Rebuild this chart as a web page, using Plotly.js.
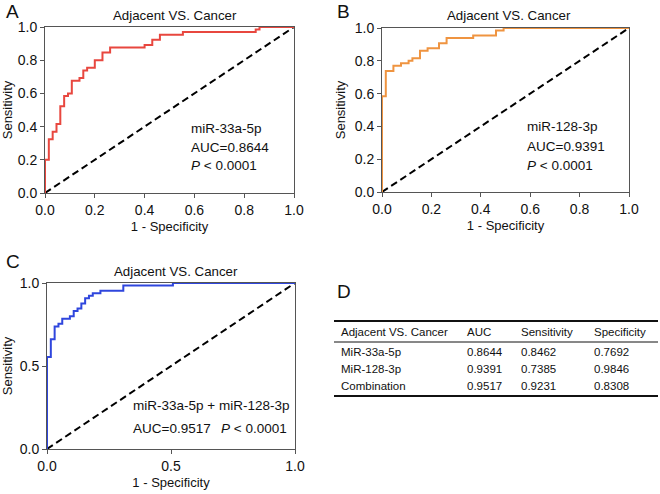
<!DOCTYPE html>
<html><head><meta charset="utf-8">
<script src="https://cdn.plot.ly/plotly-3.0.1.min.js"></script>
<style>html,body{margin:0;padding:0;background:#fff}#chart{width:660px;height:494px}</style>
</head><body><div id="chart"></div>
<script>
// ROC curve A: miR-33a-5p (1 - specificity, sensitivity) step vertices
const rocA_x = [0, 0, 0.0154, 0.0154, 0.0308, 0.0308, 0.0462, 0.0462, 0.0615, 0.0615, 0.0769, 0.0769, 0.0923, 0.0923, 0.1077, 0.1077, 0.1385, 0.1385, 0.1538, 0.1538, 0.1692, 0.1692, 0.2, 0.2, 0.2308, 0.2308, 0.2615, 0.2615, 0.4, 0.4, 0.4308, 0.4308, 0.4615, 0.4615, 0.5538, 0.5538, 0.8462, 0.8462, 0.8615, 0.8615, 1.0];
const rocA_y = [0, 0.2, 0.2, 0.3231, 0.3231, 0.3692, 0.3692, 0.4154, 0.4154, 0.5231, 0.5231, 0.5846, 0.5846, 0.6, 0.6, 0.6769, 0.6769, 0.6923, 0.6923, 0.7385, 0.7385, 0.7538, 0.7538, 0.8, 0.8, 0.8462, 0.8462, 0.8769, 0.8769, 0.8923, 0.8923, 0.9231, 0.9231, 0.9538, 0.9538, 0.9692, 0.9692, 0.9846, 0.9846, 1.0, 1.0];
// ROC curve B: miR-128-3p
const rocB_x = [0, 0, 0.0154, 0.0154, 0.0462, 0.0462, 0.0769, 0.0769, 0.1077, 0.1077, 0.1231, 0.1231, 0.1538, 0.1538, 0.1846, 0.1846, 0.2308, 0.2308, 0.2615, 0.2615, 0.3692, 0.3692, 0.4615, 0.4615, 0.4923, 0.4923, 1.0];
const rocB_y = [0, 0.5846, 0.5846, 0.7385, 0.7385, 0.7692, 0.7692, 0.7846, 0.7846, 0.8, 0.8, 0.8154, 0.8154, 0.8615, 0.8615, 0.8769, 0.8769, 0.9077, 0.9077, 0.9385, 0.9385, 0.9538, 0.9538, 0.9846, 0.9846, 1.0, 1.0];
// ROC curve C: combination
const rocC_x = [0, 0, 0.0154, 0.0154, 0.0308, 0.0308, 0.0462, 0.0462, 0.0615, 0.0615, 0.0923, 0.0923, 0.1077, 0.1077, 0.1231, 0.1231, 0.1385, 0.1385, 0.1538, 0.1538, 0.1692, 0.1692, 0.1846, 0.1846, 0.2154, 0.2154, 0.3077, 0.3077, 0.5077, 0.5077, 1.0];
const rocC_y = [0, 0.5538, 0.5538, 0.6615, 0.6615, 0.7385, 0.7385, 0.7538, 0.7538, 0.7846, 0.7846, 0.8, 0.8, 0.8308, 0.8308, 0.8462, 0.8462, 0.8769, 0.8769, 0.9077, 0.9077, 0.9231, 0.9231, 0.9385, 0.9385, 0.9538, 0.9538, 0.9846, 0.9846, 1.0, 1.0];
const refLine = [0, 1];

// Table D
const tableHeader = ["Adjacent VS. Cancer", "AUC", "Sensitivity", "Specificity"];
const tableRows = ["MiR-33a-5p", "MiR-128-3p", "Combination"];
const tableAUC = ["0.8644", "0.9391", "0.9517"];
const tableSens = ["0.8462", "0.7385", "0.9231"];
const tableSpec = ["0.7692", "0.9846", "0.8308"];

const W = 660, H = 494;
const px = x => x / W, py = y => 1 - y / H;
const FONT = "Liberation Sans, Arial, sans-serif";
const axColor = "#555";

function rocTrace(x, y, color, xa, ya) {
  return {x: x, y: y, mode: "lines", line: {color: color, width: 2}, xaxis: xa, yaxis: ya, hoverinfo: "skip", showlegend: false};
}
function diagTrace(xa, ya) {
  return {x: refLine, y: refLine, mode: "lines", line: {color: "#000", width: 2, dash: "7px,4px"}, xaxis: xa, yaxis: ya, hoverinfo: "skip", showlegend: false};
}
const traces = [
  diagTrace("x", "y"), rocTrace(rocA_x, rocA_y, "#e8473f", "x", "y"),
  diagTrace("x2", "y2"), rocTrace(rocB_x, rocB_y, "#ef9440", "x2", "y2"),
  diagTrace("x3", "y3"), rocTrace(rocC_x, rocC_y, "#2f46dd", "x3", "y3")
];

function xAxis(domain, anchor, dtick) {
  return {domain: domain, anchor: anchor, range: [0, 1], dtick: dtick, tick0: 0, tickformat: ".1f",
    showgrid: false, zeroline: false, showline: true, mirror: true, linecolor: axColor, linewidth: 1,
    ticks: "outside", ticklen: 4, tickcolor: axColor, tickfont: {family: FONT, size: 14, color: "#111"},
    title: {text: "1 - Specificity", font: {family: FONT, size: 13, color: "#111"}, standoff: 5}, fixedrange: true};
}
function yAxis(domain, anchor, dtick) {
  return {domain: domain, anchor: anchor, range: [0, 1], dtick: dtick, tick0: 0, tickformat: ".1f",
    showgrid: false, zeroline: false, showline: true, mirror: true, linecolor: axColor, linewidth: 1,
    ticks: "outside", ticklen: 4, tickcolor: axColor, tickfont: {family: FONT, size: 14, color: "#111"},
    title: {text: "Sensitivity", font: {family: FONT, size: 13, color: "#111"}, standoff: 6}, fixedrange: true};
}

const annotations = [];
const txt = (x, y, t, size, opts) => annotations.push(Object.assign({xref: "paper", yref: "paper", x: px(x), y: py(y), text: t, showarrow: false,
  xanchor: "left", yanchor: "middle", font: {family: FONT, size: size, color: "#111"}}, opts || {}));

// Panel letters
txt(4, 11, "A", 19); txt(335, 11, "B", 19); txt(4, 261, "C", 19); txt(335, 291, "D", 19);
// Panel titles
txt(175, 15, "Adjacent VS. Cancer", 13.3, {xanchor: "center"});
txt(509, 16, "Adjacent VS. Cancer", 13.3, {xanchor: "center"});
txt(176, 271, "Adjacent VS. Cancer", 13.3, {xanchor: "center"});
// Panel A labels
txt(189, 128, "miR-33a-5p", 13.5); txt(189, 147, "AUC=0.8644", 13.5); txt(189, 166, "<i>P</i> < 0.0001", 13.5);
// Panel B labels
txt(525, 127, "miR-128-3p", 13.5); txt(525, 146, "AUC=0.9391", 13.5); txt(525, 165, "<i>P</i> < 0.0001", 13.5);
// Panel C labels
txt(131, 405, "miR-33a-5p + miR-128-3p", 13.5); txt(131, 428, "AUC=0.9517", 13.5); txt(219, 428, "<i>P</i> < 0.0001", 13.5);

// Table D
const colX = [339, 465, 519, 592];
const headerY = 332, rowY0 = 352, rowStep = 17;
tableHeader.forEach((h, i) => txt(colX[i], headerY, h, 11.5));
tableRows.forEach((r, j) => {
  const y = rowY0 + j * rowStep;
  txt(colX[0], y, r, 11.5); txt(colX[1], y, tableAUC[j], 11.5);
  txt(colX[2], y, tableSens[j], 11.5); txt(colX[3], y, tableSpec[j], 11.5);
});
const shapes = [
  {type: "line", xref: "paper", yref: "paper", x0: px(334), x1: px(658), y0: py(321), y1: py(321), line: {color: "#111", width: 2}},
  {type: "line", xref: "paper", yref: "paper", x0: px(334), x1: px(658), y0: py(342), y1: py(342), line: {color: "#111", width: 1}},
  {type: "line", xref: "paper", yref: "paper", x0: px(334), x1: px(658), y0: py(396), y1: py(396), line: {color: "#111", width: 2}}
];

const layout = {
  width: W, height: H, margin: {l: 0, r: 0, t: 0, b: 0}, paper_bgcolor: "#fff", plot_bgcolor: "#fff",
  font: {family: FONT},
  xaxis: xAxis([px(45), px(294)], "y", 0.2), yaxis: yAxis([py(193), py(27)], "x", 0.2),
  xaxis2: xAxis([px(382), px(629)], "y2", 0.2), yaxis2: yAxis([py(192), py(28)], "x2", 0.2),
  xaxis3: xAxis([px(47), px(295)], "y3", 0.5), yaxis3: yAxis([py(449), py(283)], "x3", 0.5),
  annotations: annotations, shapes: shapes, showlegend: false
};
Plotly.newPlot("chart", traces, layout, {staticPlot: true, displayModeBar: false});
</script></body></html>
